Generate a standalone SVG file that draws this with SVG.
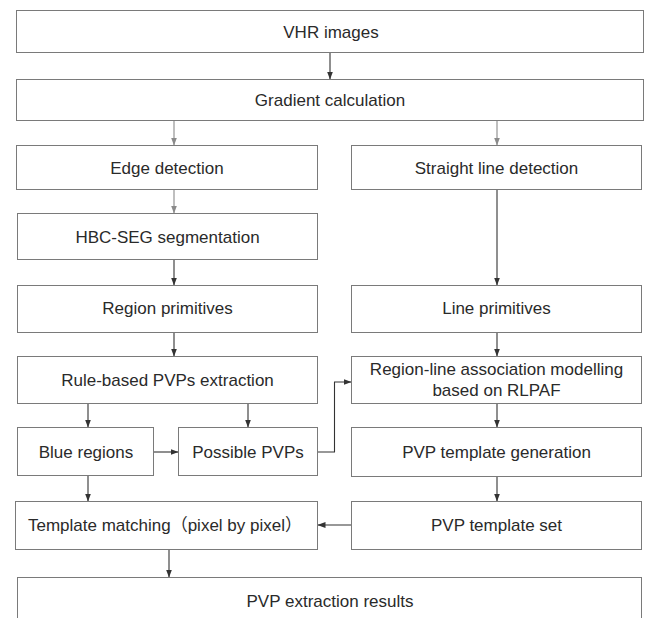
<svg xmlns="http://www.w3.org/2000/svg" width="646" height="618" viewBox="0 0 646 618">
<style>
.box{fill:#fff;stroke:#7a7a7a;stroke-width:1}
.t{font-family:"Liberation Sans","Noto Sans CJK SC",sans-serif;font-size:17px;fill:#2a2a2a;text-anchor:middle}
.c{fill:none;stroke:#333;stroke-width:1.1}
.g{fill:none;stroke:#8a8a8a;stroke-width:1.1}
</style>
<defs>
<marker id="ah" markerUnits="userSpaceOnUse" markerWidth="8" markerHeight="6" refX="8" refY="3" orient="auto"><path d="M0,0 L8,3 L0,6 z" fill="#333"/></marker>
<marker id="ahg" markerUnits="userSpaceOnUse" markerWidth="8" markerHeight="6" refX="8" refY="3" orient="auto"><path d="M0,0 L8,3 L0,6 z" fill="#8a8a8a"/></marker>
</defs>
<rect width="646" height="618" fill="#fff"/>
<g id="connectors">
<line class="c" x1="330" y1="52.5" x2="330" y2="79.5" marker-end="url(#ah)"/>
<line class="g" x1="174" y1="120.5" x2="174" y2="145.5" marker-end="url(#ahg)"/>
<line class="g" x1="497" y1="120.5" x2="497" y2="145.5" marker-end="url(#ahg)"/>
<line class="g" x1="174" y1="189.5" x2="174" y2="213.5" marker-end="url(#ahg)"/>
<line class="c" x1="174" y1="259.5" x2="174" y2="285.5" marker-end="url(#ah)"/>
<line class="c" x1="497" y1="189.5" x2="497" y2="285.5" marker-end="url(#ah)"/>
<line class="c" x1="174" y1="332.5" x2="174" y2="356.5" marker-end="url(#ah)"/>
<line class="c" x1="497" y1="332.5" x2="497" y2="356.5" marker-end="url(#ah)"/>
<line class="c" x1="88" y1="403.5" x2="88" y2="427.5" marker-end="url(#ah)"/>
<line class="c" x1="248" y1="403.5" x2="248" y2="427.5" marker-end="url(#ah)"/>
<line class="c" x1="153.5" y1="452" x2="178.5" y2="452" marker-end="url(#ah)"/>
<polyline class="c" points="317.5,452 334.5,452 334.5,382 351.5,382" marker-end="url(#ah)"/>
<line class="c" x1="497" y1="403.5" x2="497" y2="427.5" marker-end="url(#ah)"/>
<line class="c" x1="88" y1="475.5" x2="88" y2="501.5" marker-end="url(#ah)"/>
<line class="c" x1="497" y1="476.5" x2="497" y2="501.5" marker-end="url(#ah)"/>
<line class="c" x1="351.5" y1="525" x2="317.5" y2="525" marker-end="url(#ah)"/>
<line class="c" x1="169" y1="549.5" x2="169" y2="577.5" marker-end="url(#ah)"/>
</g>
<g id="vhr"><rect class="box" x="16.5" y="10.5" width="627" height="42"/><text class="t" x="331" y="38">VHR images</text></g>
<g id="gradient"><rect class="box" x="16.5" y="79.5" width="627" height="41"/><text class="t" x="330" y="106">Gradient calculation</text></g>
<g id="edge"><rect class="box" x="16.5" y="145.5" width="301" height="44"/><text class="t" x="167" y="173.5">Edge detection</text></g>
<g id="straight"><rect class="box" x="351.5" y="145.5" width="290" height="44"/><text class="t" x="496.5" y="173.5">Straight line detection</text></g>
<g id="hbc"><rect class="box" x="17.5" y="213.5" width="300" height="46"/><text class="t" x="167.5" y="242.5">HBC-SEG segmentation</text></g>
<g id="regprim"><rect class="box" x="17.5" y="285.5" width="300" height="47"/><text class="t" x="167.5" y="314">Region primitives</text></g>
<g id="lineprim"><rect class="box" x="351.5" y="285.5" width="290" height="47"/><text class="t" x="496.5" y="314">Line primitives</text></g>
<g id="rule"><rect class="box" x="17.5" y="356.5" width="300" height="47"/><text class="t" x="167.5" y="386">Rule-based PVPs extraction</text></g>
<g id="rla"><rect class="box" x="351.5" y="356.5" width="290" height="47"/><text class="t" x="496.5" y="375">Region-line association modelling</text><text class="t" x="496.5" y="396">based on RLPAF</text></g>
<g id="blue"><rect class="box" x="17.5" y="427.5" width="136" height="48"/><text class="t" x="86" y="458">Blue regions</text></g>
<g id="possible"><rect class="box" x="178.5" y="427.5" width="139" height="48"/><text class="t" x="248" y="458">Possible PVPs</text></g>
<g id="ptgen"><rect class="box" x="351.5" y="427.5" width="290" height="49"/><text class="t" x="496.5" y="458">PVP template generation</text></g>
<g id="tmatch"><rect class="box" x="15.5" y="501.5" width="302" height="48"/><text class="t" x="165" y="531">Template matching（pixel by pixel）</text></g>
<g id="ptset"><rect class="box" x="351.5" y="501.5" width="290" height="48"/><text class="t" x="496.5" y="531">PVP template set</text></g>
<g id="results"><rect class="box" x="17.5" y="577.5" width="624" height="60"/><text class="t" x="330" y="607">PVP extraction results</text></g>
</svg>
